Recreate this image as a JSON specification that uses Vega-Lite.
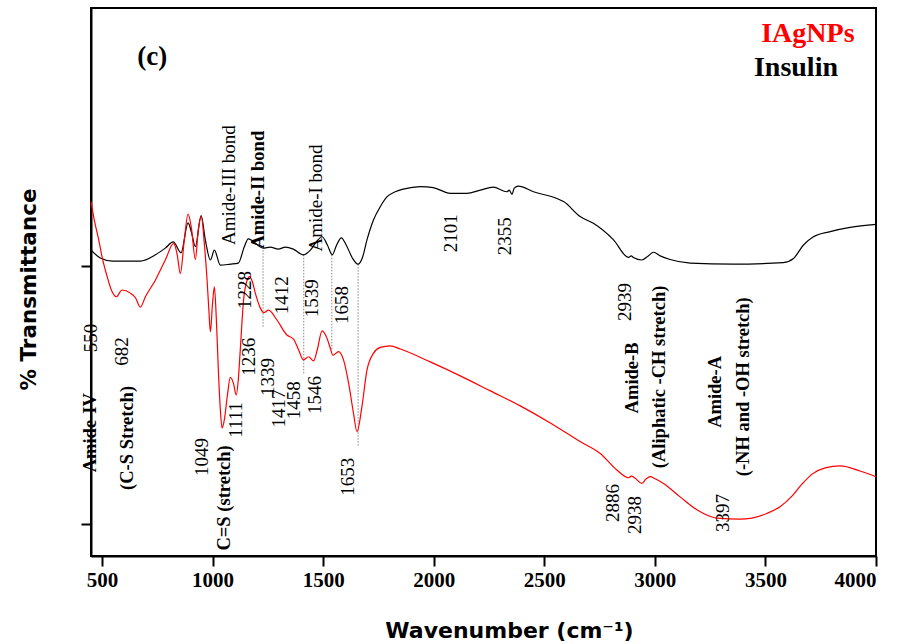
{
  "$schema": "https://vega.github.io/schema/vega-lite/v6.json",
  "width": 785,
  "height": 548,
  "autosize": "none",
  "padding": {"left": 91, "top": 8, "right": 27, "bottom": 88},
  "background": "white",
  "config": {
    "view": {"stroke": "black", "strokeWidth": 2},
    "axis": {"grid": false, "domainColor": "black", "domainWidth": 2, "tickColor": "black", "tickWidth": 2, "tickSize": 10, "zindex": 1}
  },
  "datasets": {
    "spectra": [
      {"sample": "Insulin", "wavenumber": 450, "transmittance": 63.0},
      {"sample": "Insulin", "wavenumber": 492, "transmittance": 61.5},
      {"sample": "Insulin", "wavenumber": 547, "transmittance": 60.9},
      {"sample": "Insulin", "wavenumber": 605, "transmittance": 60.9},
      {"sample": "Insulin", "wavenumber": 673, "transmittance": 60.9},
      {"sample": "Insulin", "wavenumber": 741, "transmittance": 62.1},
      {"sample": "Insulin", "wavenumber": 786, "transmittance": 63.4},
      {"sample": "Insulin", "wavenumber": 822, "transmittance": 64.6},
      {"sample": "Insulin", "wavenumber": 857, "transmittance": 62.5},
      {"sample": "Insulin", "wavenumber": 889, "transmittance": 68.3},
      {"sample": "Insulin", "wavenumber": 904, "transmittance": 66.5},
      {"sample": "Insulin", "wavenumber": 922, "transmittance": 63.7},
      {"sample": "Insulin", "wavenumber": 948, "transmittance": 69.7},
      {"sample": "Insulin", "wavenumber": 967, "transmittance": 65.0},
      {"sample": "Insulin", "wavenumber": 990, "transmittance": 61.1},
      {"sample": "Insulin", "wavenumber": 1008, "transmittance": 63.0},
      {"sample": "Insulin", "wavenumber": 1035, "transmittance": 60.1},
      {"sample": "Insulin", "wavenumber": 1080, "transmittance": 60.3},
      {"sample": "Insulin", "wavenumber": 1116, "transmittance": 60.5},
      {"sample": "Insulin", "wavenumber": 1143, "transmittance": 63.6},
      {"sample": "Insulin", "wavenumber": 1161, "transmittance": 65.2},
      {"sample": "Insulin", "wavenumber": 1180, "transmittance": 64.8},
      {"sample": "Insulin", "wavenumber": 1228, "transmittance": 63.4},
      {"sample": "Insulin", "wavenumber": 1261, "transmittance": 63.6},
      {"sample": "Insulin", "wavenumber": 1297, "transmittance": 63.2},
      {"sample": "Insulin", "wavenumber": 1329, "transmittance": 63.6},
      {"sample": "Insulin", "wavenumber": 1365, "transmittance": 63.2},
      {"sample": "Insulin", "wavenumber": 1410, "transmittance": 62.1},
      {"sample": "Insulin", "wavenumber": 1442, "transmittance": 63.0},
      {"sample": "Insulin", "wavenumber": 1469, "transmittance": 64.6},
      {"sample": "Insulin", "wavenumber": 1495, "transmittance": 65.6},
      {"sample": "Insulin", "wavenumber": 1519, "transmittance": 64.0},
      {"sample": "Insulin", "wavenumber": 1541, "transmittance": 62.1},
      {"sample": "Insulin", "wavenumber": 1559, "transmittance": 63.8},
      {"sample": "Insulin", "wavenumber": 1582, "transmittance": 65.4},
      {"sample": "Insulin", "wavenumber": 1604, "transmittance": 64.0},
      {"sample": "Insulin", "wavenumber": 1632, "transmittance": 61.5},
      {"sample": "Insulin", "wavenumber": 1657, "transmittance": 60.3},
      {"sample": "Insulin", "wavenumber": 1677, "transmittance": 61.5},
      {"sample": "Insulin", "wavenumber": 1698, "transmittance": 65.0},
      {"sample": "Insulin", "wavenumber": 1727, "transmittance": 68.8},
      {"sample": "Insulin", "wavenumber": 1758, "transmittance": 71.4},
      {"sample": "Insulin", "wavenumber": 1788, "transmittance": 73.3},
      {"sample": "Insulin", "wavenumber": 1826, "transmittance": 74.3},
      {"sample": "Insulin", "wavenumber": 1862, "transmittance": 74.8},
      {"sample": "Insulin", "wavenumber": 1939, "transmittance": 75.3},
      {"sample": "Insulin", "wavenumber": 1998, "transmittance": 75.1},
      {"sample": "Insulin", "wavenumber": 2075, "transmittance": 74.0},
      {"sample": "Insulin", "wavenumber": 2150, "transmittance": 74.0},
      {"sample": "Insulin", "wavenumber": 2211, "transmittance": 74.6},
      {"sample": "Insulin", "wavenumber": 2269, "transmittance": 75.2},
      {"sample": "Insulin", "wavenumber": 2331, "transmittance": 74.3},
      {"sample": "Insulin", "wavenumber": 2341, "transmittance": 74.6},
      {"sample": "Insulin", "wavenumber": 2354, "transmittance": 73.8},
      {"sample": "Insulin", "wavenumber": 2364, "transmittance": 75.0},
      {"sample": "Insulin", "wavenumber": 2383, "transmittance": 75.4},
      {"sample": "Insulin", "wavenumber": 2451, "transmittance": 74.3},
      {"sample": "Insulin", "wavenumber": 2557, "transmittance": 73.0},
      {"sample": "Insulin", "wavenumber": 2587, "transmittance": 72.4},
      {"sample": "Insulin", "wavenumber": 2662, "transmittance": 69.5},
      {"sample": "Insulin", "wavenumber": 2722, "transmittance": 68.2},
      {"sample": "Insulin", "wavenumber": 2813, "transmittance": 65.0},
      {"sample": "Insulin", "wavenumber": 2881, "transmittance": 61.6},
      {"sample": "Insulin", "wavenumber": 2893, "transmittance": 61.9},
      {"sample": "Insulin", "wavenumber": 2903, "transmittance": 61.6},
      {"sample": "Insulin", "wavenumber": 2941, "transmittance": 61.1},
      {"sample": "Insulin", "wavenumber": 2970, "transmittance": 61.9},
      {"sample": "Insulin", "wavenumber": 2994, "transmittance": 62.6},
      {"sample": "Insulin", "wavenumber": 3024, "transmittance": 61.9},
      {"sample": "Insulin", "wavenumber": 3069, "transmittance": 61.2},
      {"sample": "Insulin", "wavenumber": 3160, "transmittance": 60.5},
      {"sample": "Insulin", "wavenumber": 3354, "transmittance": 60.3},
      {"sample": "Insulin", "wavenumber": 3581, "transmittance": 60.6},
      {"sample": "Insulin", "wavenumber": 3627, "transmittance": 61.4},
      {"sample": "Insulin", "wavenumber": 3672, "transmittance": 64.0},
      {"sample": "Insulin", "wavenumber": 3717, "transmittance": 65.6},
      {"sample": "Insulin", "wavenumber": 3793, "transmittance": 66.6},
      {"sample": "Insulin", "wavenumber": 3883, "transmittance": 67.4},
      {"sample": "Insulin", "wavenumber": 4000, "transmittance": 68.0},
      {"sample": "IAgNPs", "wavenumber": 450, "transmittance": 72.4},
      {"sample": "IAgNPs", "wavenumber": 465, "transmittance": 68.8},
      {"sample": "IAgNPs", "wavenumber": 485, "transmittance": 65.0},
      {"sample": "IAgNPs", "wavenumber": 501, "transmittance": 61.5},
      {"sample": "IAgNPs", "wavenumber": 523, "transmittance": 57.9},
      {"sample": "IAgNPs", "wavenumber": 542, "transmittance": 55.3},
      {"sample": "IAgNPs", "wavenumber": 565, "transmittance": 54.0},
      {"sample": "IAgNPs", "wavenumber": 590, "transmittance": 55.3},
      {"sample": "IAgNPs", "wavenumber": 628, "transmittance": 54.7},
      {"sample": "IAgNPs", "wavenumber": 651, "transmittance": 53.8},
      {"sample": "IAgNPs", "wavenumber": 673, "transmittance": 52.0},
      {"sample": "IAgNPs", "wavenumber": 696, "transmittance": 54.0},
      {"sample": "IAgNPs", "wavenumber": 741, "transmittance": 57.2},
      {"sample": "IAgNPs", "wavenumber": 786, "transmittance": 61.1},
      {"sample": "IAgNPs", "wavenumber": 824, "transmittance": 64.3},
      {"sample": "IAgNPs", "wavenumber": 840, "transmittance": 62.1},
      {"sample": "IAgNPs", "wavenumber": 854, "transmittance": 58.5},
      {"sample": "IAgNPs", "wavenumber": 872, "transmittance": 65.0},
      {"sample": "IAgNPs", "wavenumber": 889, "transmittance": 70.0},
      {"sample": "IAgNPs", "wavenumber": 904, "transmittance": 67.3},
      {"sample": "IAgNPs", "wavenumber": 922, "transmittance": 61.2},
      {"sample": "IAgNPs", "wavenumber": 935, "transmittance": 66.9},
      {"sample": "IAgNPs", "wavenumber": 949, "transmittance": 69.5},
      {"sample": "IAgNPs", "wavenumber": 963, "transmittance": 64.0},
      {"sample": "IAgNPs", "wavenumber": 975, "transmittance": 57.2},
      {"sample": "IAgNPs", "wavenumber": 983, "transmittance": 51.4},
      {"sample": "IAgNPs", "wavenumber": 990, "transmittance": 47.2},
      {"sample": "IAgNPs", "wavenumber": 999, "transmittance": 52.4},
      {"sample": "IAgNPs", "wavenumber": 1008, "transmittance": 55.9},
      {"sample": "IAgNPs", "wavenumber": 1017, "transmittance": 49.5},
      {"sample": "IAgNPs", "wavenumber": 1026, "transmittance": 39.8},
      {"sample": "IAgNPs", "wavenumber": 1035, "transmittance": 32.1},
      {"sample": "IAgNPs", "wavenumber": 1043, "transmittance": 28.6},
      {"sample": "IAgNPs", "wavenumber": 1053, "transmittance": 30.2},
      {"sample": "IAgNPs", "wavenumber": 1067, "transmittance": 35.0},
      {"sample": "IAgNPs", "wavenumber": 1080, "transmittance": 38.4},
      {"sample": "IAgNPs", "wavenumber": 1094, "transmittance": 37.3},
      {"sample": "IAgNPs", "wavenumber": 1107, "transmittance": 35.0},
      {"sample": "IAgNPs", "wavenumber": 1116, "transmittance": 37.9},
      {"sample": "IAgNPs", "wavenumber": 1125, "transmittance": 43.7},
      {"sample": "IAgNPs", "wavenumber": 1140, "transmittance": 53.4},
      {"sample": "IAgNPs", "wavenumber": 1156, "transmittance": 57.2},
      {"sample": "IAgNPs", "wavenumber": 1167, "transmittance": 57.9},
      {"sample": "IAgNPs", "wavenumber": 1180, "transmittance": 56.9},
      {"sample": "IAgNPs", "wavenumber": 1193, "transmittance": 54.7},
      {"sample": "IAgNPs", "wavenumber": 1216, "transmittance": 51.8},
      {"sample": "IAgNPs", "wavenumber": 1231, "transmittance": 50.9},
      {"sample": "IAgNPs", "wavenumber": 1253, "transmittance": 51.4},
      {"sample": "IAgNPs", "wavenumber": 1291, "transmittance": 49.5},
      {"sample": "IAgNPs", "wavenumber": 1336, "transmittance": 46.6},
      {"sample": "IAgNPs", "wavenumber": 1366, "transmittance": 45.8},
      {"sample": "IAgNPs", "wavenumber": 1389, "transmittance": 43.7},
      {"sample": "IAgNPs", "wavenumber": 1411, "transmittance": 41.8},
      {"sample": "IAgNPs", "wavenumber": 1434, "transmittance": 42.4},
      {"sample": "IAgNPs", "wavenumber": 1457, "transmittance": 41.6},
      {"sample": "IAgNPs", "wavenumber": 1473, "transmittance": 43.7},
      {"sample": "IAgNPs", "wavenumber": 1495, "transmittance": 47.4},
      {"sample": "IAgNPs", "wavenumber": 1517, "transmittance": 46.0},
      {"sample": "IAgNPs", "wavenumber": 1532, "transmittance": 44.1},
      {"sample": "IAgNPs", "wavenumber": 1544, "transmittance": 42.7},
      {"sample": "IAgNPs", "wavenumber": 1570, "transmittance": 43.4},
      {"sample": "IAgNPs", "wavenumber": 1592, "transmittance": 41.8},
      {"sample": "IAgNPs", "wavenumber": 1615, "transmittance": 37.3},
      {"sample": "IAgNPs", "wavenumber": 1637, "transmittance": 31.5},
      {"sample": "IAgNPs", "wavenumber": 1653, "transmittance": 27.9},
      {"sample": "IAgNPs", "wavenumber": 1675, "transmittance": 32.7},
      {"sample": "IAgNPs", "wavenumber": 1698, "transmittance": 39.8},
      {"sample": "IAgNPs", "wavenumber": 1728, "transmittance": 43.1},
      {"sample": "IAgNPs", "wavenumber": 1758, "transmittance": 44.2},
      {"sample": "IAgNPs", "wavenumber": 1803, "transmittance": 44.5},
      {"sample": "IAgNPs", "wavenumber": 1849, "transmittance": 43.9},
      {"sample": "IAgNPs", "wavenumber": 1984, "transmittance": 41.4},
      {"sample": "IAgNPs", "wavenumber": 2120, "transmittance": 38.7},
      {"sample": "IAgNPs", "wavenumber": 2256, "transmittance": 35.8},
      {"sample": "IAgNPs", "wavenumber": 2391, "transmittance": 32.9},
      {"sample": "IAgNPs", "wavenumber": 2527, "transmittance": 29.6},
      {"sample": "IAgNPs", "wavenumber": 2662, "transmittance": 26.0},
      {"sample": "IAgNPs", "wavenumber": 2753, "transmittance": 23.7},
      {"sample": "IAgNPs", "wavenumber": 2828, "transmittance": 20.5},
      {"sample": "IAgNPs", "wavenumber": 2881, "transmittance": 19.0},
      {"sample": "IAgNPs", "wavenumber": 2893, "transmittance": 19.3},
      {"sample": "IAgNPs", "wavenumber": 2911, "transmittance": 18.9},
      {"sample": "IAgNPs", "wavenumber": 2941, "transmittance": 17.9},
      {"sample": "IAgNPs", "wavenumber": 2961, "transmittance": 18.8},
      {"sample": "IAgNPs", "wavenumber": 2979, "transmittance": 19.2},
      {"sample": "IAgNPs", "wavenumber": 3001, "transmittance": 18.8},
      {"sample": "IAgNPs", "wavenumber": 3039, "transmittance": 17.9},
      {"sample": "IAgNPs", "wavenumber": 3114, "transmittance": 15.3},
      {"sample": "IAgNPs", "wavenumber": 3190, "transmittance": 12.8},
      {"sample": "IAgNPs", "wavenumber": 3280, "transmittance": 11.2},
      {"sample": "IAgNPs", "wavenumber": 3386, "transmittance": 11.0},
      {"sample": "IAgNPs", "wavenumber": 3506, "transmittance": 12.1},
      {"sample": "IAgNPs", "wavenumber": 3566, "transmittance": 13.4},
      {"sample": "IAgNPs", "wavenumber": 3621, "transmittance": 15.5},
      {"sample": "IAgNPs", "wavenumber": 3666, "transmittance": 17.8},
      {"sample": "IAgNPs", "wavenumber": 3711, "transmittance": 19.7},
      {"sample": "IAgNPs", "wavenumber": 3770, "transmittance": 20.9},
      {"sample": "IAgNPs", "wavenumber": 3838, "transmittance": 21.3},
      {"sample": "IAgNPs", "wavenumber": 3928, "transmittance": 20.3},
      {"sample": "IAgNPs", "wavenumber": 4000, "transmittance": 19.2}
    ],
    "guides": [
      {"wavenumber": 1228, "top": 63.0, "bottom": 48.0},
      {"wavenumber": 1412, "top": 62.1, "bottom": 38.9},
      {"wavenumber": 1539, "top": 62.1, "bottom": 43.7},
      {"wavenumber": 1658, "top": 60.3, "bottom": 25.0}
    ],
    "peaks": [
      {"label": "Amide-III  bond", "wavenumber": 1075, "transmittance": 75.6},
      {"label": "Amide-I bond", "wavenumber": 1469, "transmittance": 73.1},
      {"label": "1228", "wavenumber": 1148, "transmittance": 55.3},
      {"label": "1412", "wavenumber": 1314, "transmittance": 54.3},
      {"label": "1539", "wavenumber": 1449, "transmittance": 53.7},
      {"label": "1658", "wavenumber": 1585, "transmittance": 52.4},
      {"label": "1236", "wavenumber": 1163, "transmittance": 42.4},
      {"label": "1339", "wavenumber": 1249, "transmittance": 38.5},
      {"label": "1417", "wavenumber": 1298, "transmittance": 32.4},
      {"label": "1458", "wavenumber": 1366, "transmittance": 34.0},
      {"label": "1546", "wavenumber": 1464, "transmittance": 35.0},
      {"label": "1111", "wavenumber": 1107, "transmittance": 30.2},
      {"label": "1049", "wavenumber": 953, "transmittance": 23.0},
      {"label": "1653", "wavenumber": 1614, "transmittance": 19.2},
      {"label": "550", "wavenumber": 450, "transmittance": 46.0},
      {"label": "682", "wavenumber": 592, "transmittance": 43.4},
      {"label": "2101", "wavenumber": 2079, "transmittance": 66.3},
      {"label": "2355", "wavenumber": 2323, "transmittance": 65.7},
      {"label": "2939", "wavenumber": 2866, "transmittance": 53.0},
      {"label": "2886", "wavenumber": 2812, "transmittance": 14.1},
      {"label": "2938", "wavenumber": 2911, "transmittance": 11.8},
      {"label": "3397", "wavenumber": 3309, "transmittance": 12.2}
    ],
    "bands": [
      {"label": "Amide-II  bond", "wavenumber": 1207, "transmittance": 74.7},
      {"label": "C=S (stretch)", "wavenumber": 1053, "transmittance": 15.1},
      {"label": "Amide-IV", "wavenumber": 445, "transmittance": 27.7},
      {"label": "(C-S Stretch)", "wavenumber": 614, "transmittance": 26.7},
      {"label": "Amide-B", "wavenumber": 2897, "transmittance": 38.3},
      {"label": "(Aliphatic -CH stretch)", "wavenumber": 3019, "transmittance": 38.5},
      {"label": "Amide-A", "wavenumber": 3272, "transmittance": 35.6},
      {"label": "(-NH and -OH stretch)", "wavenumber": 3399, "transmittance": 36.6}
    ],
    "panel": [
      {"label": "(c)", "wavenumber": 727, "transmittance": 100.4}
    ],
    "key": [
      {"sample": "IAgNPs", "wavenumber": 3692, "transmittance": 104.8},
      {"sample": "Insulin", "wavenumber": 3638, "transmittance": 98.2}
    ]
  },
  "encoding": {
    "x": {
      "field": "wavenumber",
      "type": "quantitative",
      "scale": {"domain": [450, 4000], "nice": false, "zero": false},
      "axis": {
        "values": [500, 1000, 1500, 2000, 2500, 3000, 3500, 4000],
        "format": "d",
        "labelFont": "Liberation Serif",
        "labelFontWeight": "bold",
        "labelFontSize": 21,
        "labelColor": "black",
        "labelPadding": 3,
        "title": "Wavenumber (cm⁻¹)",
        "titleFont": "DejaVu Sans",
        "titleFontWeight": "bold",
        "titleFontSize": 22,
        "titleColor": "black",
        "titleBaseline": "middle",
        "titleY": 74,
        "titleX": 418
      }
    },
    "y": {
      "field": "transmittance",
      "type": "quantitative",
      "scale": {"domain": [3.87, 109.83], "nice": false, "zero": false},
      "axis": {
        "values": [10, 60],
        "labels": false,
        "title": "% Transmittance",
        "titleFont": "DejaVu Sans",
        "titleFontWeight": "bold",
        "titleFontSize": 21.5,
        "titleColor": "black",
        "titleAngle": 270,
        "titleBaseline": "middle",
        "titleX": -62,
        "titleY": 281
      }
    }
  },
  "layer": [
    {
      "data": {"name": "guides"},
      "mark": {"type": "rule", "color": "#888888", "strokeWidth": 1, "strokeDash": [1.5, 1.5]},
      "encoding": {
        "y": {"field": "top", "type": "quantitative"},
        "y2": {"field": "bottom"}
      }
    },
    {
      "data": {"name": "spectra"},
      "mark": {"type": "line", "strokeWidth": 1.2, "interpolate": "monotone"},
      "encoding": {
        "color": {
          "field": "sample",
          "type": "nominal",
          "scale": {"domain": ["IAgNPs", "Insulin"], "range": ["#ff0000", "#000000"]},
          "legend": null
        }
      }
    },
    {
      "data": {"name": "peaks"},
      "mark": {"type": "text", "angle": 270, "font": "Liberation Serif", "fontSize": 19, "color": "black", "align": "center", "baseline": "middle"},
      "encoding": {"text": {"field": "label"}}
    },
    {
      "data": {"name": "bands"},
      "mark": {"type": "text", "angle": 270, "font": "Liberation Serif", "fontWeight": "bold", "fontSize": 18.5, "color": "black", "align": "center", "baseline": "middle"},
      "encoding": {"text": {"field": "label"}}
    },
    {
      "data": {"name": "panel"},
      "mark": {"type": "text", "font": "Liberation Serif", "fontWeight": "bold", "fontSize": 27, "color": "black", "align": "center", "baseline": "middle"},
      "encoding": {"text": {"field": "label"}}
    },
    {
      "data": {"name": "key"},
      "mark": {"type": "text", "font": "Liberation Serif", "fontWeight": "bold", "fontSize": 28, "align": "center", "baseline": "middle"},
      "encoding": {
        "text": {"field": "sample"},
        "color": {"field": "sample", "type": "nominal", "legend": null}
      }
    }
  ]
}
